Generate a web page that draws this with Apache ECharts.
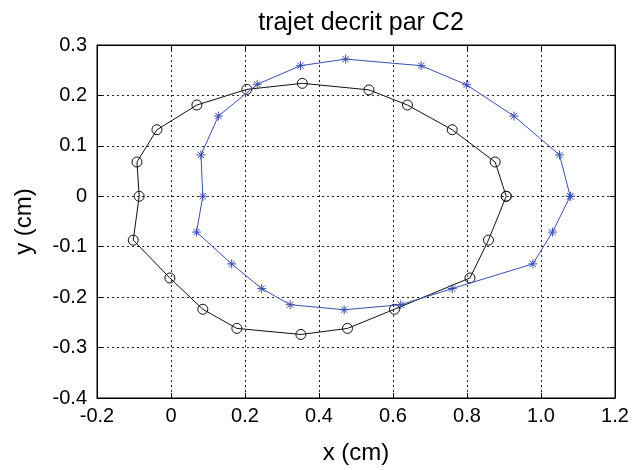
<!DOCTYPE html>
<html>
<head>
<meta charset="utf-8">
<script src="https://cdn.jsdelivr.net/npm/echarts@6/dist/echarts.min.js"></script>
<style>
  html, body { margin: 0; padding: 0; background: #fff; }
  #main { width: 643px; height: 470px; }
</style>
</head>
<body>
<div id="main"></div>
<script>
// trajectoire C2 : cercles noirs et etoiles bleues
var blackX = [0.906, 0.876, 0.760, 0.639, 0.535, 0.355, 0.205, 0.070, -0.038, -0.092, -0.086,
  -0.102, -0.003, 0.086, 0.178, 0.351, 0.477, 0.604, 0.808, 0.858, 0.906];
var blackY = [0.000, 0.068, 0.132, 0.181, 0.211, 0.224, 0.212, 0.181, 0.132, 0.068, 0.000,
  -0.087, -0.162, -0.224, -0.262, -0.274, -0.262, -0.224, -0.162, -0.087, 0.000];

var blueX = [1.079, 1.050, 0.927, 0.799, 0.676, 0.472, 0.350, 0.233, 0.128, 0.081, 0.086,
  0.069, 0.164, 0.245, 0.322, 0.468, 0.621, 0.760, 0.978, 1.031, 1.079];
var blueY = [0.000, 0.082, 0.159, 0.221, 0.259, 0.272, 0.259, 0.222, 0.159, 0.082, 0.000,
  -0.071, -0.134, -0.183, -0.215, -0.225, -0.215, -0.183, -0.134, -0.071, 0.000];

function pairs(xs, ys) {
  return xs.map(function (x, i) { return [x, ys[i]]; });
}

function fmt(v) {
  if (Math.abs(v) < 1e-9) return '0';
  return v.toFixed(1);
}

var dom = document.getElementById('main');
var myChart = echarts.init(dom, null, { renderer: 'canvas' });

var font = 'Liberation Sans, Arial, sans-serif';
var gridLine = { show: true, lineStyle: { color: '#222', type: [2, 3], width: 1 } };

var option = {
  animation: false,
  backgroundColor: '#fff',
  title: {
    text: 'trajet decrit par C2',
    left: 356, top: 6, textAlign: 'center',
    textStyle: { fontFamily: font, fontWeight: 'normal', fontSize: 25, color: '#000' }
  },
  grid: {
    left: 97, right: 28, top: 45, bottom: 68,
    show: true, borderColor: '#000', borderWidth: 1
  },
  xAxis: [
    {
      type: 'value', min: -0.2, max: 1.2, interval: 0.2,
      name: 'x (cm)', nameLocation: 'middle', nameGap: 43,
      nameTextStyle: { fontFamily: font, fontSize: 24, color: '#000' },
      axisLine: { show: true, onZero: false, lineStyle: { color: '#000' } },
      axisTick: { inside: true, length: 5, lineStyle: { color: '#000' } },
      axisLabel: { formatter: fmt, fontFamily: font, fontSize: 20, color: '#000', margin: 8 },
      splitLine: gridLine
    },
    {
      type: 'value', min: -0.2, max: 1.2, interval: 0.2, position: 'top',
      axisLine: { show: true, onZero: false, lineStyle: { color: '#000' } },
      axisTick: { inside: true, length: 5, lineStyle: { color: '#000' } },
      axisLabel: { show: false }, splitLine: { show: false }
    }
  ],
  yAxis: [
    {
      type: 'value', min: -0.4, max: 0.3, interval: 0.1,
      name: 'y (cm)', nameLocation: 'middle', nameGap: 61,
      nameTextStyle: { fontFamily: font, fontSize: 24, color: '#000' },
      axisLine: { show: true, onZero: false, lineStyle: { color: '#000' } },
      axisTick: { inside: true, length: 5, lineStyle: { color: '#000' } },
      axisLabel: { formatter: fmt, fontFamily: font, fontSize: 20, color: '#000', margin: 10 },
      splitLine: gridLine
    },
    {
      type: 'value', min: -0.4, max: 0.3, interval: 0.1, position: 'right',
      axisLine: { show: true, onZero: false, lineStyle: { color: '#000' } },
      axisTick: { inside: true, length: 5, lineStyle: { color: '#000' } },
      axisLabel: { show: false }, splitLine: { show: false }
    }
  ],
  series: [
    {
      type: 'line',
      data: pairs(blackX, blackY),
      symbol: 'circle', symbolSize: 10,
      lineStyle: { color: '#111', width: 1 },
      itemStyle: { color: 'rgba(0,0,0,0)', borderColor: '#111', borderWidth: 1 },
      z: 2
    },
    {
      type: 'line',
      data: pairs(blueX, blueY),
      symbol: 'path://M0,-5L0,5M-5,0L5,0M-3.5,-3.5L3.5,3.5M-3.5,3.5L3.5,-3.5',
      symbolSize: 9, symbolKeepAspect: true,
      lineStyle: { color: '#3a4fb0', width: 1 },
      itemStyle: { color: 'rgba(0,0,0,0)', borderColor: '#3a4fb0', borderWidth: 1 },
      z: 3
    }
  ]
};

myChart.setOption(option);
window.addEventListener('resize', myChart.resize);
</script>
</body>
</html>
